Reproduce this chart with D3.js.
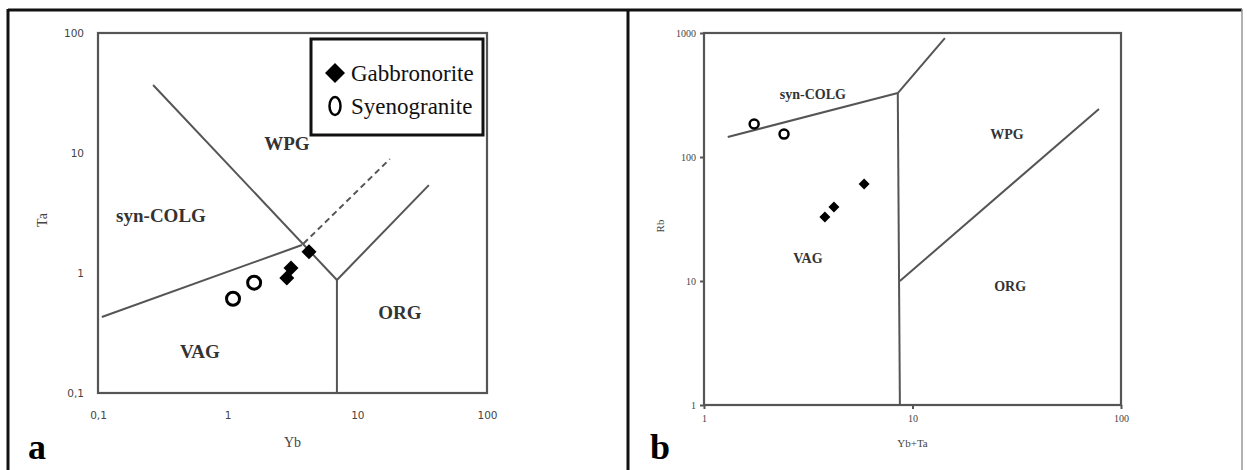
<!DOCTYPE html>
<html><head><meta charset="utf-8">
<script src="https://cdn.jsdelivr.net/npm/d3@7"></script>
<style>body{margin:0;background:#fff}svg{display:block}</style>
</head><body>
<script>
// ---------- Data: panel a (Ta vs Yb) ----------
const aXTicks = [0.1, 1, 10, 100];
const aXTickLabels = ["0,1", "1", "10", "100"];
const aYTicks = [0.1, 1, 10, 100];
const aYTickLabels = ["0,1", "1", "10", "100"];
const aGabbroYb = [2.86, 3.08, 4.24];
const aGabbroTa = [0.91, 1.10, 1.50];
const aSyenoYb = [1.10, 1.60];
const aSyenoTa = [0.61, 0.83];
const aLineSynVag = [[0.107, 0.43], [3.74, 1.71]];
const aLineWpgVag = [[0.266, 36.9], [6.96, 0.874]];
const aLineVagOrg = [[6.96, 0.874], [6.96, 0.1]];
const aLineOrgWpg = [[6.96, 0.874], [35.6, 5.4]];
const aLineDashed = [[3.85, 1.76], [17.8, 8.9]];
const aRegions = [["WPG", 2.86, 12.1], ["syn-COLG", 0.306, 3.04], ["ORG", 21.3, 0.473], ["VAG", 0.611, 0.22]];

// ---------- Data: panel b (Rb vs Yb+Ta) ----------
const bXTicks = [1, 10, 100];
const bXTickLabels = ["1", "10", "100"];
const bYTicks = [1, 10, 100, 1000];
const bYTickLabels = ["1", "10", "100", "1000"];
const bGabbroX = [3.80, 4.20, 5.86];
const bGabbroRb = [32.8, 39.5, 60.5];
const bSyenoX = [1.74, 2.42];
const bSyenoRb = [184.5, 153];
const bLineSynVag = [[1.30, 145], [8.5, 328]];
const bLineSynWpg = [[8.5, 328], [14.3, 910]];
const bLineVagWpg = [[8.5, 328], [8.7, 1]];
const bLineWpgOrg = [[8.7, 10], [78.4, 244]];
const bRegions = [["syn-COLG", 3.33, 322], ["WPG", 28.4, 153], ["VAG", 3.15, 15.3], ["ORG", 29.4, 9.1]];

const legendItems = ["Gabbronorite", "Syenogranite"];

const W = 1247, H = 470;
const svg = d3.select("body").append("svg").attr("width", W).attr("height", H);
const grey = "#555";
const serif = "'Liberation Serif', 'Times New Roman', serif";

// outer frame
svg.append("line").attr("x1", 8).attr("x2", 1242).attr("y1", 10).attr("y2", 10).attr("stroke", "#111").attr("stroke-width", 3);
svg.append("line").attr("x1", 8).attr("x2", 8).attr("y1", 9).attr("y2", 470).attr("stroke", "#111").attr("stroke-width", 3);
svg.append("line").attr("x1", 628).attr("x2", 628).attr("y1", 9).attr("y2", 470).attr("stroke", "#111").attr("stroke-width", 3);
svg.append("line").attr("x1", 1242).attr("x2", 1242).attr("y1", 9).attr("y2", 470).attr("stroke", "#999").attr("stroke-width", 1.5);

function diamond(g, cx, cy, r) {
  g.append("path").attr("d", `M${cx},${cy - r}L${cx + r},${cy}L${cx},${cy + r}L${cx - r},${cy}Z`).attr("fill", "#000");
}

function panel(opt) {
  const x = d3.scaleLog().domain(opt.xd).range([opt.l, opt.r]);
  const y = d3.scaleLog().domain(opt.yd).range([opt.b, opt.t]);
  const g = svg.append("g");
  const line = d3.line().x(d => x(d[0])).y(d => y(d[1]));
  g.append("rect").attr("x", opt.l).attr("y", opt.t).attr("width", opt.r - opt.l).attr("height", opt.b - opt.t)
    .attr("fill", "none").attr("stroke", grey).attr("stroke-width", 2.2);
  const ax = g.append("g").attr("transform", `translate(0,${opt.b})`)
    .call(d3.axisBottom(x).tickValues(opt.xt).tickFormat((d, i) => opt.xl[i]).tickSize(opt.tick).tickPadding(opt.xpad));
  const ay = g.append("g").attr("transform", `translate(${opt.l},0)`)
    .call(d3.axisLeft(y).tickValues(opt.yt).tickFormat((d, i) => opt.yl[i]).tickSize(opt.tick).tickPadding(opt.ypad));
  [ax, ay].forEach(a => {
    a.select(".domain").remove();
    a.selectAll(".tick line").attr("stroke", grey).attr("stroke-width", 2);
    a.selectAll("text").attr("font-family", opt.tickFont).attr("font-size", opt.tickSize)
      .attr("font-weight", opt.tickWeight).attr("fill", "#444");
  });
  opt.lines.forEach(L => g.append("path").attr("d", line(L)).attr("fill", "none").attr("stroke", grey).attr("stroke-width", 2));
  if (opt.dashed) g.append("path").attr("d", line(opt.dashed)).attr("fill", "none").attr("stroke", grey)
    .attr("stroke-width", 2).attr("stroke-dasharray", "6,4");
  opt.regions.forEach(rg => g.append("text").attr("x", x(rg[1])).attr("y", y(rg[2])).attr("text-anchor", "middle")
    .attr("dominant-baseline", "central").attr("font-family", serif).attr("font-weight", "bold")
    .attr("font-size", opt.regSize).attr("fill", "#333").text(rg[0]));
  opt.gx.forEach((v, i) => diamond(g, x(v), y(opt.gy[i]), opt.dr));
  opt.sx.forEach((v, i) => g.append("circle").attr("cx", x(v)).attr("cy", y(opt.sy[i])).attr("r", opt.cr)
    .attr("fill", "none").attr("stroke", "#000").attr("stroke-width", opt.cw));
  g.append("text").attr("x", (opt.l + opt.r) / 2 - opt.xtOff).attr("y", opt.xTitleY).attr("text-anchor", "middle")
    .attr("font-family", serif).attr("font-size", opt.titleSize).attr("fill", "#444").text(opt.xTitle);
  g.append("text").attr("transform", `translate(${opt.yTitleX},${(opt.t + opt.b) / 2 + 7}) rotate(-90)`).attr("text-anchor", "middle")
    .attr("font-family", serif).attr("font-size", opt.titleSize).attr("fill", "#444").text(opt.yTitle);
  g.append("text").attr("x", opt.letterX).attr("y", opt.letterY).attr("text-anchor", "middle")
    .attr("font-family", serif).attr("font-weight", "bold").attr("font-size", 36).attr("fill", "#000").text(opt.letter);
  return {x, y, g};
}

panel({
  xd: [0.1, 100], yd: [0.1, 100], l: 98, r: 487, t: 33, b: 393,
  xt: aXTicks, xl: aXTickLabels, yt: aYTicks, yl: aYTickLabels, tick: 0, xpad: 19, ypad: 14,
  tickFont: "'DejaVu Sans', Verdana, sans-serif", tickSize: 10.5, tickWeight: "normal",
  lines: [aLineSynVag, aLineWpgVag, aLineVagOrg, aLineOrgWpg], dashed: aLineDashed,
  regions: aRegions, regSize: 19,
  gx: aGabbroYb, gy: aGabbroTa, sx: aSyenoYb, sy: aSyenoTa, dr: 7.5, cr: 6.5, cw: 3,
  xTitle: "Yb", xTitleY: 447, xtOff: 0, yTitle: "Ta", yTitleX: 47, titleSize: 14,
  letter: "a", letterX: 37, letterY: 459
});

panel({
  xd: [1, 100], yd: [1, 1000], l: 704, r: 1121, t: 33, b: 405,
  xt: bXTicks, xl: bXTickLabels, yt: bYTicks, yl: bYTickLabels, tick: 4, xpad: 6, ypad: 4,
  tickFont: serif, tickSize: 10, tickWeight: "normal",
  lines: [bLineSynVag, bLineSynWpg, bLineVagWpg, bLineWpgOrg], dashed: null,
  regions: bRegions, regSize: 14,
  gx: bGabbroX, gy: bGabbroRb, sx: bSyenoX, sy: bSyenoRb, dr: 5.5, cr: 4.5, cw: 2.5,
  xTitle: "Yb+Ta", xTitleY: 447, xtOff: 0, yTitle: "Rb", yTitleX: 664, titleSize: 11,
  letter: "b", letterX: 660, letterY: 459
});

// legend (panel a)
const lg = svg.append("g");
lg.append("rect").attr("x", 311).attr("y", 39).attr("width", 172).attr("height", 96)
  .attr("fill", "#fff").attr("stroke", "#111").attr("stroke-width", 3);
legendItems.forEach((t, i) => {
  const cy = 73 + i * 33;
  if (i === 0) diamond(lg, 335, cy, 10);
  else lg.append("ellipse").attr("cx", 335).attr("cy", cy).attr("rx", 5.5).attr("ry", 9)
    .attr("fill", "none").attr("stroke", "#000").attr("stroke-width", 2.5);
  lg.append("text").attr("x", 351).attr("y", cy).attr("dominant-baseline", "central")
    .attr("font-family", "'Liberation Serif', serif").attr("font-size", 23).attr("fill", "#111").text(t);
});
</script>
</body></html>
